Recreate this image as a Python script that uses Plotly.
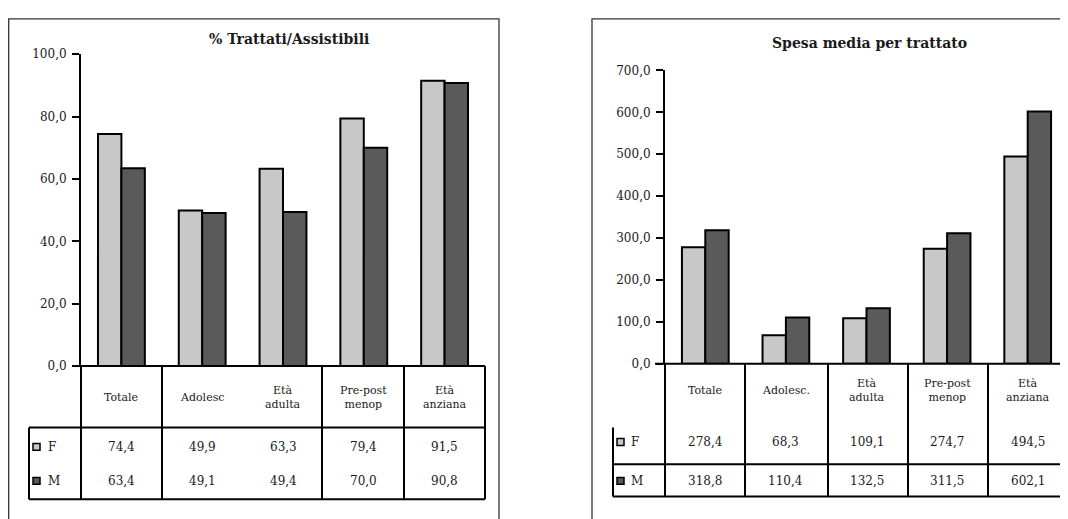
import plotly.graph_objects as go

# page body has an 8px margin, so the figure is drawn 8px in and sized to fit the window
OFF = 8
W, H = 1060, 511

# ---- data ----
cats_left = ["Totale", "Adolesc", "Età adulta", "Pre-post menop", "Età anziana"]
cat_labels_left = ["Totale", "Adolesc", "Età<br>adulta", "Pre-post<br>menop", "Età<br>anziana"]
left_F = [74.4, 49.9, 63.3, 79.4, 91.5]
left_M = [63.4, 49.1, 49.4, 70.0, 90.8]

cats_right = ["Totale", "Adolesc.", "Età adulta", "Pre-post menop", "Età anziana"]
cat_labels_right = ["Totale", "Adolesc.", "Età<br>adulta", "Pre-post<br>menop", "Età<br>anziana"]
right_F = [278.4, 68.3, 109.1, 274.7, 494.5]
right_M = [318.8, 110.4, 132.5, 311.5, 602.1]

series_names = ["F", "M"]
title_left = "% Trattati/Assistibili"
title_right = "Spesa media per trattato"

COL_F = "#c8c8c8"
COL_M = "#5a5a5a"
FONT = "DejaVu Serif"
TXT = "#1a1a1a"


def px(x):
    return (x - OFF) / W


def py(y):
    return 1 - (y - OFF) / H


def fmt(v):
    return f"{v:.1f}".replace(".", ",")


fig = go.Figure()
for cats, vals, col, xa, ya, nm in [
    (cats_left, left_F, COL_F, "x", "y", series_names[0]),
    (cats_left, left_M, COL_M, "x", "y", series_names[1]),
    (cats_right, right_F, COL_F, "x2", "y2", series_names[0]),
    (cats_right, right_M, COL_M, "x2", "y2", series_names[1]),
]:
    fig.add_trace(go.Bar(x=cats, y=vals, name=nm, marker=dict(color=col, line=dict(color="black", width=2)),
                         xaxis=xa, yaxis=ya, showlegend=False))

# layout geometry (pixels in the window)
L_x0, L_x1, L_y0, L_ytop = 81, 485, 369, 48.3
R_x0, R_x1, R_y0, R_ytop = 665, 1068, 366.7, 65

axis_common = dict(showgrid=False, zeroline=False, fixedrange=True)
yax_common = dict(showline=True, linecolor="black", linewidth=2, ticks="outside", ticklen=7,
                  tickcolor="black", tickwidth=2, tickformat=".1f", ticklabelstandoff=3,
                  tickfont=dict(family=FONT, size=12, color=TXT), **axis_common)

fig.update_layout(
    width=W, height=H, margin=dict(l=0, r=0, t=0, b=0),
    paper_bgcolor="white", plot_bgcolor="rgba(0,0,0,0)",
    separators=",.",
    barmode="group", bargap=0.42, bargroupgap=0,
    xaxis=dict(domain=[px(L_x0), px(L_x1)], showticklabels=False, showline=False, ticks="", anchor="y",
               **axis_common),
    yaxis=dict(domain=[py(L_y0), py(L_ytop)], range=[0, 100], dtick=20, anchor="x", **yax_common),
    xaxis2=dict(domain=[px(R_x0), min(1.0, px(R_x1))], showticklabels=False, showline=False, ticks="",
                anchor="y2", **axis_common),
    yaxis2=dict(domain=[py(R_y0), py(R_ytop)], range=[0, 700], dtick=100, anchor="x2", **yax_common),
)

shapes = []


def line(x0, y0, x1, y1, w=2, c="black"):
    shapes.append(dict(type="line", xref="paper", yref="paper", x0=px(x0), y0=py(y0), x1=px(x1), y1=py(y1),
                       line=dict(color=c, width=w)))


# frames
shapes.append(dict(type="rect", xref="paper", yref="paper", x0=px(8.7), y0=py(540), x1=px(499), y1=py(12),
                   line=dict(color="#333333", width=1.3)))
shapes.append(dict(type="rect", xref="paper", yref="paper", x0=px(592), y0=py(540), x1=px(1090), y1=py(12),
                   line=dict(color="#333333", width=1.3)))

# left table
line(75, L_y0, L_x1, L_y0)
for xv in [81, 162, 322, 404, 485]:
    line(xv, L_y0, xv, 506)
line(29, 432, 485, 432)
line(29, 506, 485, 506)
line(29, 432, 29, 506)

# right table
line(655, R_y0, 1068, R_y0)
for xv in [665, 745, 828, 908, 988]:
    line(xv, R_y0, xv, 503)
line(613, 432, 613, 503)
line(613, 470, 1068, 470)
line(613, 503, 1068, 503)

# legend keys
for (kx, ky, col) in [(33, 452, COL_F), (33, 487, COL_M), (617, 447, COL_F), (617, 487, COL_M)]:
    shapes.append(dict(type="rect", xref="paper", yref="paper", x0=px(kx), y0=py(ky + 3.5), x1=px(kx + 7),
                       y1=py(ky - 3.5), fillcolor=col, line=dict(color="black", width=1.5)))

fig.update_layout(shapes=shapes)

ann = []


def text(x, y, s, xref="paper", size=12, xanchor="center"):
    ann.append(dict(x=x if xref != "paper" else px(x), y=py(y), xref=xref, yref="paper", text=s,
                    showarrow=False, xanchor=xanchor, yanchor="middle",
                    font=dict(family=FONT, size=size, color=TXT)))


# titles
text(289, 33, "<b>" + title_left + "</b>", size=14)
text(869, 37, "<b>" + title_right + "</b>", size=14)

# left table text
for c, lab in zip(cats_left, cat_labels_left):
    text(c, 401, lab, xref="x", size=11)
for c, vf, vm in zip(cats_left, left_F, left_M):
    text(c, 452, fmt(vf), xref="x")
    text(c, 487, fmt(vm), xref="x")
text(46, 452, series_names[0], xanchor="left")
text(46, 487, series_names[1], xanchor="left")

# right table text
for c, lab in zip(cats_right, cat_labels_right):
    text(c, 394, lab, xref="x2", size=11)
for c, vf, vm in zip(cats_right, right_F, right_M):
    text(c, 447, fmt(vf), xref="x2")
    text(c, 487, fmt(vm), xref="x2")
text(629, 447, series_names[0], xanchor="left")
text(629, 487, series_names[1], xanchor="left")

fig.update_layout(annotations=ann)

fig.write_html("out.html")
